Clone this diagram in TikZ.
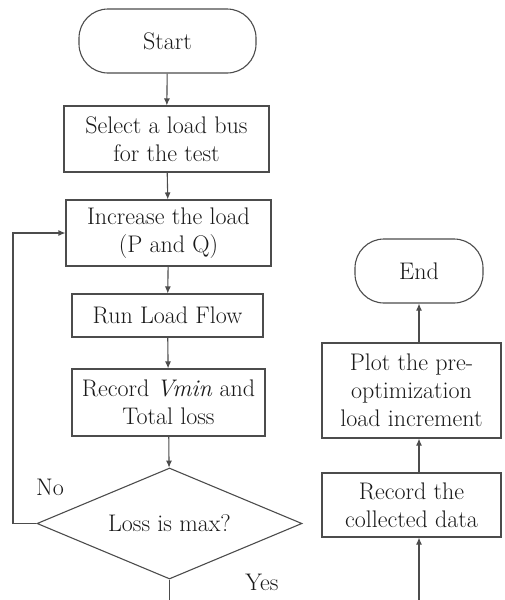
\documentclass[tikz,border=0pt]{standalone}
\usepackage{tikz}
\usetikzlibrary{shapes.geometric, arrows.meta}

\begin{document}
\begin{tikzpicture}[x=1pt, y=-1pt,
    line/.style={draw=black!70, line width=1.1pt},
    flow/.style={line, -{Latex[length=7pt, width=6pt]}},
    terminal/.style={line, rectangle, rounded corners=29pt, text=black!90, font=\fontsize{24}{28}\selectfont},
    process/.style={line, rectangle, align=center, inner sep=0pt, text=black!90, font=\fontsize{24}{28}\selectfont},
    decision/.style={line, diamond, aspect=2.39, inner sep=0pt, text=black!90, font=\fontsize{24}{28}\selectfont}]
          \useasboundingbox (0,0) rectangle (504,600);
          \node[terminal, minimum width=177pt, minimum height=64pt] (start) at (167.5,41) {Start};
          \node[process, minimum width=205pt, minimum height=66pt] (select) at (166.5,139) {Select a load bus\\for the test};
          \node[process, minimum width=205pt, minimum height=66pt] (inc) at (168.5,233) {Increase the load\\(P and Q)};
          \node[process, minimum width=191pt, minimum height=43pt] (run) at (167.5,315.5) {Run Load Flow};
          \node[process, minimum width=193pt, minimum height=67pt] (rec) at (168.5,402.5) {Record \textit{Vmin} and\\Total loss};
          \node[decision, minimum width=265pt, minimum height=111pt] (dec) at (169.5,523.5) {Loss is max?};
          \node[terminal, minimum width=128pt, minimum height=64pt] (end) at (419,271) {End};
          \node[process, minimum width=179pt, minimum height=95pt] (plot) at (411.5,390.5) {Plot the pre-\\optimization\\load increment};
          \node[process, minimum width=179pt, minimum height=64pt] (data) at (411.5,505) {Record the\\collected data};
          \coordinate (loopx) at (13,0);
          \coordinate (yesend) at (169.5,600);
          \coordinate (dataend) at (419,600);
          \node[font=\fontsize{24}{28}\selectfont, text=black!90] (no) at (50,487) {No};
          \node[font=\fontsize{24}{28}\selectfont, text=black!90] (yes) at (262,582) {Yes};
          \draw[flow] (start) -- (select);
          \draw[flow] (select) -- (inc);
          \draw[flow] (inc) -- (run);
          \draw[flow] (run) -- (rec);
          \draw[flow] (rec) -- (dec);
          \draw[flow] (dec.west) -- (dec.west -| loopx) |- (inc.west);
          \draw[line] (dec.south) -- (yesend);
          \draw[flow] (dataend) -- (data.south -| dataend);
          \draw[flow] (data.north -| dataend) -- (plot.south -| dataend);
          \draw[flow] (plot.north -| dataend) -- (end.south);
        \end{tikzpicture}
\end{document}
